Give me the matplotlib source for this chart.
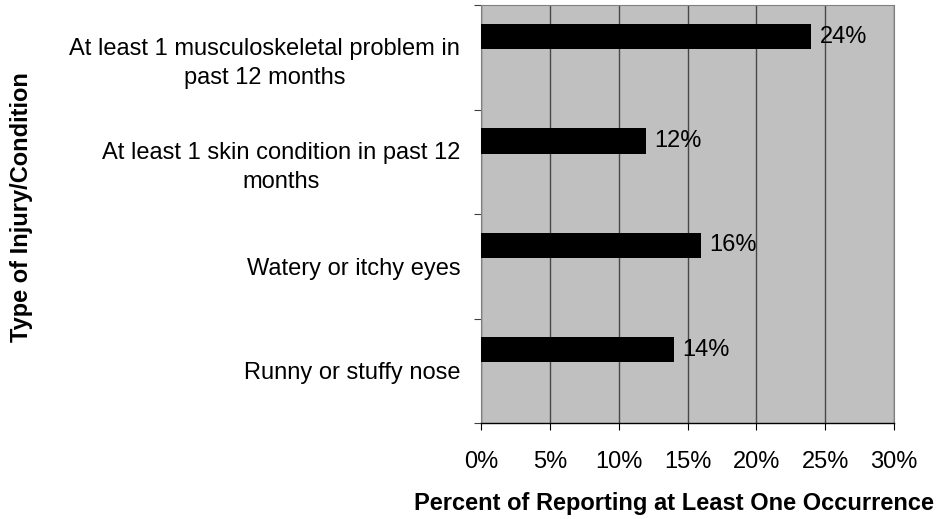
import numpy as np
import matplotlib
matplotlib.use("Agg")
import matplotlib.pyplot as plt
from matplotlib.ticker import FixedLocator, PercentFormatter

plt.rcParams['font.family'] = ['Liberation Sans', 'DejaVu Sans']

categories = [
    "At least 1 musculoskeletal problem in\npast 12 months",
    "At least 1 skin condition in past 12\nmonths",
    "Watery or itchy eyes",
    "Runny or stuffy nose",
]
values = [24, 12, 16, 14]
x_ticks = [0, 5, 10, 15, 20, 25, 30]

fs = 17
n = len(categories)
centers = np.arange(n)[::-1] + 0.5

fig = plt.figure(figsize=(9.41, 5.19), dpi=100)
ax = fig.add_axes([0.5112, 0.185, 0.4389, 0.805])
ax.set_facecolor('#c0c0c0')

ax.barh(centers + 0.2, values, height=0.24, color='black', zorder=3)
for y, v in zip(centers + 0.2, values):
    ax.annotate(f"{v}%", (v, y), xytext=(6, 0), textcoords='offset points',
                va='center', ha='left', fontsize=fs, zorder=4)

ax.set_xlim(0, 30)
ax.set_ylim(0, n)
ax.set_xticks(x_ticks)
ax.xaxis.set_major_formatter(PercentFormatter(decimals=0))
ax.grid(axis='x', color='#484848', linewidth=1.0, zorder=1)

ax.yaxis.set_major_locator(FixedLocator(np.arange(n + 1)))
ax.yaxis.set_major_formatter(plt.NullFormatter())
ax.yaxis.set_minor_locator(FixedLocator(centers))
ax.set_yticklabels(categories, minor=True, multialignment='center', linespacing=1.4)
ax.tick_params(axis='y', which='major', length=5, color='#404040')
ax.tick_params(axis='y', which='minor', length=0, pad=15, labelsize=fs)
ax.tick_params(axis='x', length=5, color='black', pad=15, labelsize=fs)

for s in ['top', 'right', 'left']:
    ax.spines[s].set_color('#808080')
    ax.spines[s].set_linewidth(0.8)
ax.spines['bottom'].set_color('black')
ax.spines['bottom'].set_linewidth(1.0)

fig.text(0.716, 0.030, "Percent of Reporting at Least One Occurrence",
         ha='center', va='center', fontsize=fs, fontweight='bold')
fig.text(0.023, 0.601, "Type of Injury/Condition", rotation=90,
         ha='center', va='center', fontsize=fs, fontweight='bold')

fig.savefig("out.png", dpi=100)
